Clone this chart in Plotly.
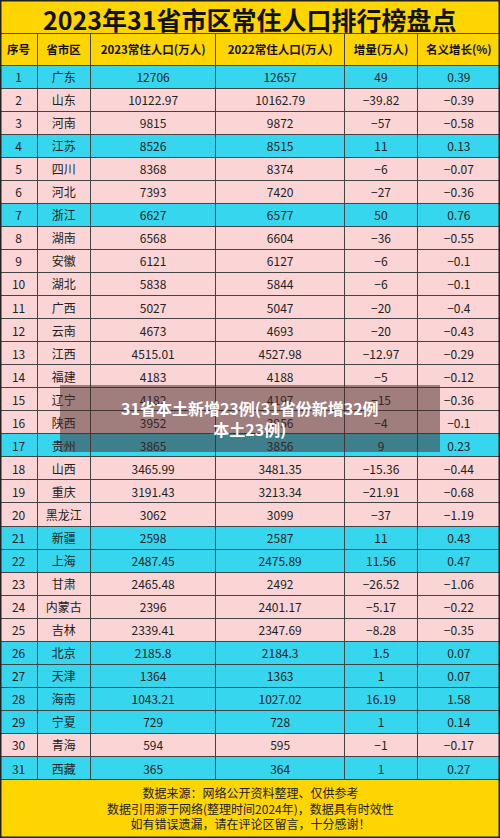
import plotly.graph_objects as go

rank = list(range(1, 32))
province = ["广东", "山东", "河南", "江苏", "四川", "河北", "浙江", "湖南", "安徽", "湖北",
            "广西", "云南", "江西", "福建", "辽宁", "陕西", "贵州", "山西", "重庆", "黑龙江",
            "新疆", "上海", "甘肃", "内蒙古", "吉林", "北京", "天津", "海南", "宁夏", "青海", "西藏"]
pop2023 = ["12706", "10122.97", "9815", "8526", "8368", "7393", "6627", "6568", "6121", "5838",
           "5027", "4673", "4515.01", "4183", "4182", "3952", "3865", "3465.99", "3191.43", "3062",
           "2598", "2487.45", "2465.48", "2396", "2339.41", "2185.8", "1364", "1043.21", "729", "594", "365"]
pop2022 = ["12657", "10162.79", "9872", "8515", "8374", "7420", "6577", "6604", "6127", "5844",
           "5047", "4693", "4527.98", "4188", "4197", "3956", "3856", "3481.35", "3213.34", "3099",
           "2587", "2475.89", "2492", "2401.17", "2347.69", "2184.3", "1363", "1027.02", "728", "595", "364"]
delta = ["49", "−39.82", "−57", "11", "−6", "−27", "50", "−36", "−6", "−6",
         "−20", "−20", "−12.97", "−5", "−15", "−4", "9", "−15.36", "−21.91", "−37",
         "11", "11.56", "−26.52", "−5.17", "−8.28", "1.5", "1", "16.19", "1", "−1", "1"]
growth = ["0.39", "−0.39", "−0.58", "0.13", "−0.07", "−0.36", "0.76", "−0.55", "−0.1", "−0.1",
          "−0.4", "−0.43", "−0.29", "−0.12", "−0.36", "−0.1", "0.23", "−0.44", "−0.68", "−1.19",
          "0.43", "0.47", "−1.06", "−0.22", "−0.35", "0.07", "0.07", "1.58", "0.14", "−0.17", "0.27"]
highlight = [1, 4, 7, 17, 21, 22, 26, 27, 28, 29, 31]
headers = ["<b>序号</b>", "<b>省市区</b>", "<b>2023常住人口(万人)</b>", "<b>2022常住人口(万人)</b>",
           "<b>增量(万人)</b>", "<b>名义增长(%)</b>"]

CYAN, PINK, YELLOW = "#36D7EE", "#FBD5D5", "#FFD500"
row_fill = [CYAN if r in highlight else PINK for r in rank]
H = 838

fig = go.Figure(go.Table(
    columnwidth=[37, 53, 125, 128, 73, 82],
    header=dict(values=headers, fill_color=YELLOW, height=24,
                line=dict(color="#444", width=1),
                font=dict(size=11.5, color="#111", family="Noto Sans CJK SC"), align="center"),
    cells=dict(values=[rank, province, pop2023, pop2022, delta, growth],
               fill_color=[row_fill] * 6, height=23.05,
               line=dict(color="#444", width=1),
               font=dict(size=12, color="#222", family="Noto Sans CJK SC"), align="center"),
    domain=dict(x=[0, 1], y=[(H - 788) / H, (H - 33) / H]),
))

fig.add_annotation(text="<b>2023年31省市区常住人口排行榜盘点</b>", x=0.5, y=1 - 19 / H,
                   xref="paper", yref="paper", showarrow=False, yanchor="middle",
                   font=dict(size=25, color="#111", family="Noto Sans CJK SC"))
fig.add_annotation(text="数据来源：网络公开资料整理、仅供参考<br>数据引用源于网络(整理时间2024年)，数据具有时效性<br>如有错误遗漏，请在评论区留言，十分感谢！",
                   x=0.5, y=(H - 808) / H, xref="paper", yref="paper", showarrow=False,
                   yanchor="middle",
                   font=dict(size=12, color="#222", family="Noto Sans CJK SC"))

# watermark overlay
fig.add_shape(type="rect", xref="paper", yref="paper", x0=60 / 500, x1=440 / 500,
              y0=(H - 452) / H, y1=(H - 385) / H, fillcolor="rgba(70,40,40,0.5)",
              line=dict(width=0), layer="above")
fig.add_annotation(text="<b>31省本土新增23例(31省份新增32例<br>本土23例)</b>", x=0.5, y=(H - 418) / H,
                   xref="paper", yref="paper", showarrow=False, yanchor="middle",
                   font=dict(size=16, color="white", family="Noto Sans CJK SC"))
fig.add_shape(type="rect", xref="paper", yref="paper", x0=0, x1=1, y0=0, y1=1,
              line=dict(color="#222", width=3))

fig.update_layout(width=500, height=H, margin=dict(l=0, r=0, t=0, b=0),
                  paper_bgcolor=YELLOW, plot_bgcolor=YELLOW)
fig.write_html("out.html", config={"displayModeBar": False},
               post_script="document.body.style.margin='0';")
